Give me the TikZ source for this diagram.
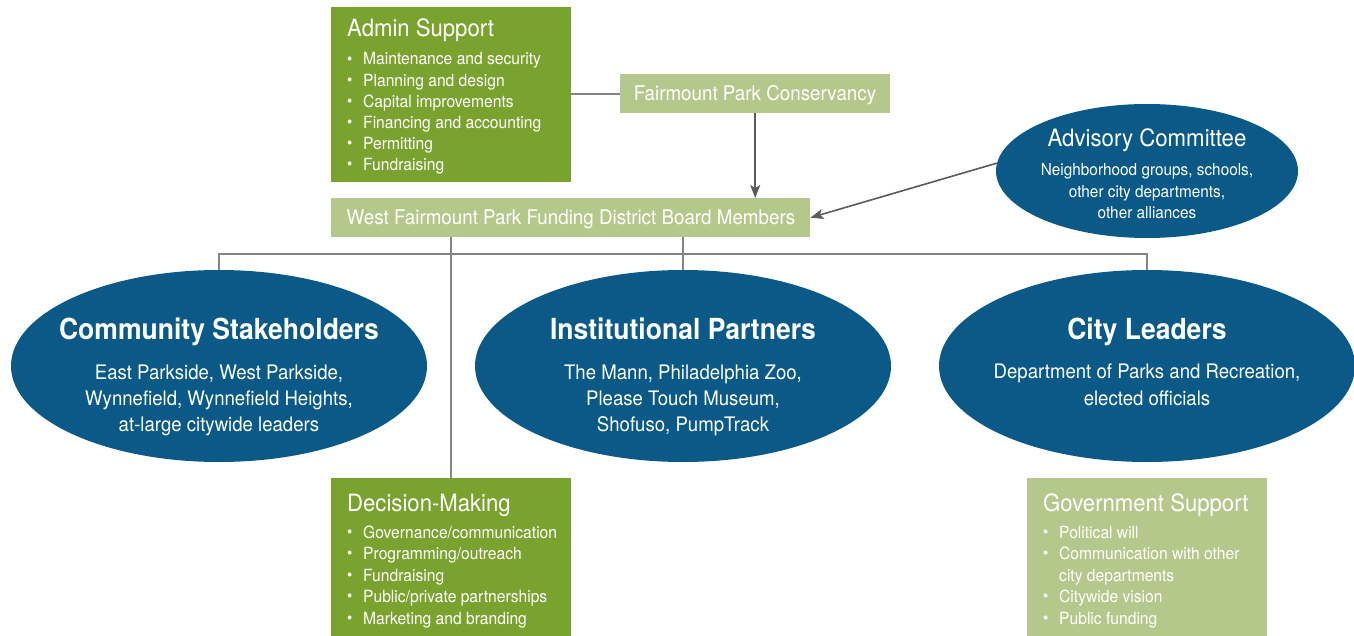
\documentclass[tikz,border=0pt]{standalone}
\usepackage{fontspec}
\setmainfont{TeX Gyre Heros}[FakeStretch=0.93, BoldFeatures={FakeStretch=0.915}]
\usetikzlibrary{shapes.geometric,arrows.meta}
\definecolor{dgreen}{HTML}{7AA22F}
\definecolor{lgreen}{HTML}{B5C88B}
\definecolor{dblue}{HTML}{0A5987}
\definecolor{lgray}{HTML}{858585}
\definecolor{agray}{HTML}{585C5E}
\tikzset{
  darkbox/.style={rectangle, fill=dgreen, inner sep=0pt, anchor=north west},
  lightbox/.style={rectangle, fill=lgreen, inner sep=0pt, anchor=north west},
  oval/.style={ellipse, fill=dblue, inner sep=0pt},
  boxtitle/.style={text=white, inner sep=0pt, anchor=base west, font=\fontsize{23.8}{26}\selectfont},
  itemtxt/.style={text=white, inner sep=0pt, anchor=base west, font=\fontsize{16.8}{20}\selectfont},
  bartxt/.style={text=white, inner sep=0pt, anchor=base, font=\fontsize{20.2}{24}\selectfont},
  ovtitle/.style={text=white, inner sep=0pt, anchor=base, font=\bfseries\fontsize{29}{32}\selectfont},
  ovtxt/.style={text=white, inner sep=0pt, anchor=base, font=\fontsize{20}{24}\selectfont},
  advtitle/.style={text=white, inner sep=0pt, anchor=base, font=\fontsize{23.9}{28}\selectfont},
  advtxt/.style={text=white, inner sep=0pt, anchor=base, font=\fontsize{16.5}{20}\selectfont},
  conn/.style={draw=lgray, line width=2pt},
  arr/.style={draw=agray, line width=1.6pt, -{Stealth[length=13pt,width=10pt,inset=3pt]}},
}
\newcommand{\bul}{\makebox[16pt][l]{\raisebox{0.1ex}{\scalebox{0.95}{\textbullet}}}}
\begin{document}
\begin{tikzpicture}[x=1pt,y=-1pt]
\useasboundingbox (0,0) rectangle (1354,636);

% boxes
\node[darkbox, minimum width=240pt, minimum height=175pt] (admin) at (331,7) {};
\node[lightbox, minimum width=270pt, minimum height=39pt] (cons) at (620,74) {};
\node[lightbox, minimum width=479pt, minimum height=39pt] (board) at (331,198) {};
\node[darkbox, minimum width=240pt, minimum height=158pt] (dec) at (331,478) {};
\node[lightbox, minimum width=240pt, minimum height=158pt] (gov) at (1027,478) {};

% ellipses
\node[oval, minimum width=302pt, minimum height=134pt] (adv) at (1147,171) {};
\node[oval, minimum width=416pt, minimum height=192pt] (comm) at (219,366) {};
\node[oval, minimum width=416pt, minimum height=192pt] (inst) at (683,366) {};
\node[oval, minimum width=416pt, minimum height=192pt] (city) at (1147,366) {};

% connectors
\draw[conn] (admin.east |- cons.west) -- (cons.west);
\draw[arr] (cons.south) -- (cons.south |- board.north);
\draw[arr] (adv.177) -- (board.east);
\coordinate (hub) at (683,254);
\draw[conn] (board.south -| inst.north) -- (inst.north);
\draw[conn] (comm.north) |- (hub) -| (city.north);
\draw[conn] (board.south -| dec.north) -- (dec.north);

% Admin support text
\node[boxtitle] (admT) at (347,37) {Admin Support};
\foreach [count=\i] \t in {Maintenance and security, Planning and design, Capital improvements, Financing and accounting, Permitting, Fundraising}
  \node[itemtxt] (admI\i) at (347,{65+21.1*(\i-1)}) {\bul\t};

% Conservancy and board text
\node[bartxt] (consT) at (755,101) {Fairmount Park Conservancy};
\node[bartxt] (boardT) at (571,225) {West Fairmount Park Funding District Board Members};

% Advisory
\node[advtitle] (advT) at (1147,147) {Advisory Committee};
\node[advtxt] (advA) at (1147,176) {Neighborhood groups, schools,};
\node[advtxt] (advB) at (1147,197.5) {other city departments,};
\node[advtxt] (advC) at (1147,219) {other alliances};

% Community
\node[ovtitle] (commT) at (219,339) {Community Stakeholders};
\node[ovtxt] (commA) at (219,379) {East Parkside, West Parkside,};
\node[ovtxt] (commB) at (219,405) {Wynnefield, Wynnefield Heights,};
\node[ovtxt] (commC) at (219,431) {at-large citywide leaders};

% Institutional
\node[ovtitle] (instT) at (683,339) {Institutional Partners};
\node[ovtxt] (instA) at (683,379) {The Mann, Philadelphia Zoo,};
\node[ovtxt] (instB) at (683,405) {Please Touch Museum,};
\node[ovtxt] (instC) at (683,431) {Shofuso, PumpTrack};

% City leaders
\node[ovtitle] (cityT) at (1147,339) {City Leaders};
\node[ovtxt] (cityA) at (1147,378) {Department of Parks and Recreation,};
\node[ovtxt] (cityB) at (1147,405) {elected officials};

% Decision-making
\node[boxtitle] (decT) at (347,511) {Decision-Making};
\foreach [count=\i] \t in {Governance/communication, Programming/outreach, Fundraising, Public/private partnerships, Marketing and branding}
  \node[itemtxt] (decI\i) at (347,{538+21.5*(\i-1)}) {\bul\t};

% Government support
\node[boxtitle] (govT) at (1043,511) {Government Support};
\node[itemtxt] (govI1) at (1043,538) {\bul Political will};
\node[itemtxt] (govI2) at (1043,559.5) {\bul Communication with other};
\node[itemtxt] (govI3) at (1043,581) {\hspace*{16pt}city departments};
\node[itemtxt] (govI4) at (1043,602.5) {\bul Citywide vision};
\node[itemtxt] (govI5) at (1043,624) {\bul Public funding};
\end{tikzpicture}
\end{document}
